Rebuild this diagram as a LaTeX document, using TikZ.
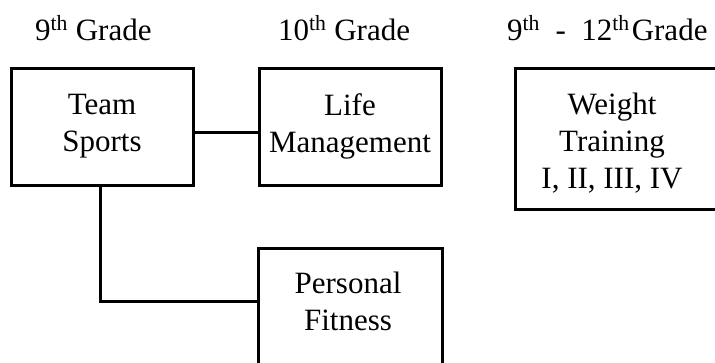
\documentclass[tikz,border=0pt]{standalone}
\usepackage{fontspec}
\setmainfont{Liberation Serif}
\begin{document}
\begin{tikzpicture}[x=1pt,y=-1pt,
  box/.style={draw=black, line width=3pt, rectangle, inner sep=0pt, align=center,
    font=\fontsize{31}{37}\selectfont},
  txt/.style={inner sep=0pt, align=center, font=\fontsize{31}{37}\selectfont},
  head/.style={inner sep=0pt, anchor=base west, font=\fontsize{31}{37}\selectfont},
  conn/.style={line width=3pt}]
\useasboundingbox (0,0) rectangle (715,362);
\clip (0,0) rectangle (715,362);
% headings
\node[head] (h9) at (35,40) {9\textsuperscript{th} Grade};
\node[head] (h10) at (278,40) {10\textsuperscript{th} Grade};
\node[head] (h912) at (507,40) {9\textsuperscript{th}\ \ -\ \ 12\textsuperscript{th}\hspace{2pt}Grade};
% boxes
\node[box, minimum width=182pt, minimum height=117pt] (team) at (102,126.5) {Team\\Sports};
\node[box, minimum width=182pt, minimum height=117pt] (life) at (350,126.5) {Life\\Management};
\node[box, minimum width=215pt, minimum height=141pt] (weight) at (622.5,138.5) {};
\node[txt] (weighttext) at (612,143.6) {Weight\\Training\\I, II, III, IV};
\node[box, minimum width=184pt, minimum height=172pt] (personal) at (350,334) {};
\node[txt] (personaltext) at (348,301) {Personal\\Fitness};
% connectors
\draw[conn] ([yshift=-5.5pt]team.east) -- ([yshift=-5.5pt]life.west);
\coordinate (pfin) at (personal.west |- 0,301);
\draw[conn] ([xshift=-2pt]team.south) |- (pfin);
\end{tikzpicture}
\end{document}
